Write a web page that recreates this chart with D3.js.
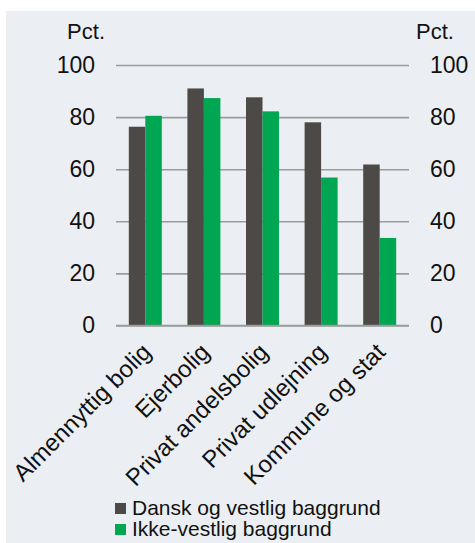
<!DOCTYPE html>
<html>
<head>
<meta charset="utf-8">
<script src="https://cdn.jsdelivr.net/npm/d3@7"></script>
<style>
html,body{margin:0;padding:0;background:#fff;}
svg{display:block;}
text{font-family:"Liberation Sans", Arial, sans-serif;fill:#111;}
</style>
</head>
<body>
<svg id="chart" width="475" height="543"></svg>
<script>
const categories = ["Almennyttig bolig", "Ejerbolig", "Privat andelsbolig", "Privat udlejning", "Kommune og stat"];
const seriesNames = ["Dansk og vestlig baggrund", "Ikke-vestlig baggrund"];
const danskValues = [76.3, 91.0, 87.6, 78.0, 61.8];
const ikkeVestligValues = [80.5, 87.3, 82.2, 56.8, 33.6];
const yTicks = [0, 20, 40, 60, 80, 100];
const colors = ["#4d4946", "#00a651"];

(function () {
const seriesValues = [danskValues, ikkeVestligValues];
const rows = categories.map((c, i) => ({cat: c, vals: seriesValues.map((s, j) => ({key: seriesNames[j], v: s[i], j}))}));

const svg = d3.select("#chart");
svg.append("rect").attr("x", 6).attr("y", 11).attr("width", 469).attr("height", 532).attr("fill", "#ebeff3");

const pl = 116, pr = 409, pt = 65, pb = 325.5;
const x0 = d3.scaleBand().domain(categories).range([pl, pr]).paddingInner(0.437).paddingOuter(0.2185);
const x1 = d3.scaleBand().domain(seriesNames).range([0, x0.bandwidth()]);
const y = d3.scaleLinear().domain([0, 100]).range([pb, pt]);

// gridlines
const yAxisGrid = d3.axisLeft(y).tickValues(yTicks).tickSize(-(pr - pl)).tickFormat("");
const g = svg.append("g").attr("transform", `translate(${pl},0)`).call(yAxisGrid);
g.select(".domain").remove();
g.selectAll("line").attr("stroke", "#9b9b9b").attr("stroke-width", 1.6);

// bars
const groups = svg.append("g").selectAll("g").data(rows).join("g")
  .attr("transform", d => `translate(${x0(d.cat)},0)`);
groups.selectAll("rect").data(d => d.vals).join("rect")
  .attr("x", d => x1(d.key))
  .attr("width", x1.bandwidth())
  .attr("y", d => y(d.v))
  .attr("height", d => y(0) - y(d.v))
  .attr("fill", d => colors[d.j]);

// baseline redraw on top
svg.append("line").attr("x1", pl).attr("x2", pr).attr("y1", y(0)).attr("y2", y(0))
  .attr("stroke", "#9b9b9b").attr("stroke-width", 1.6);

// left axis labels
const la = svg.append("g").attr("transform", `translate(95,0)`)
  .call(d3.axisLeft(y).tickValues(yTicks).tickSize(0).tickPadding(0));
la.select(".domain").remove();
la.selectAll("text").attr("font-size", 23).attr("font-family", "Liberation Sans, Arial, sans-serif").attr("fill", "#111");

const ra = svg.append("g").attr("transform", `translate(430,0)`)
  .call(d3.axisRight(y).tickValues(yTicks).tickSize(0).tickPadding(0));
ra.select(".domain").remove();
ra.selectAll("text").attr("font-size", 23).attr("font-family", "Liberation Sans, Arial, sans-serif").attr("fill", "#111");

svg.append("text").attr("x", 105).attr("y", 39).attr("text-anchor", "end").attr("font-size", 22).text("Pct.");
svg.append("text").attr("x", 416).attr("y", 39).attr("text-anchor", "start").attr("font-size", 22).text("Pct.");

// category labels
svg.append("g").selectAll("text").data(categories).join("text")
  .attr("text-anchor", "end")
  .attr("font-size", 24)
  .attr("transform", d => `translate(${x0(d) + x0.bandwidth() / 2 - 5},${pb + 16}) rotate(-45)`)
  .attr("dy", "0.71em")
  .text(d => d);

// legend
const lg = svg.append("g").attr("transform", "translate(115,503)");
const li = lg.selectAll("g").data(seriesNames).join("g").attr("transform", (d, i) => `translate(0,${i * 21})`);
li.append("rect").attr("width", 11).attr("height", 11).attr("fill", (d, i) => colors[i]);
li.append("text").attr("x", 17).attr("y", 12).attr("font-size", 21).text(d => d);
})();
</script>
</body>
</html>
